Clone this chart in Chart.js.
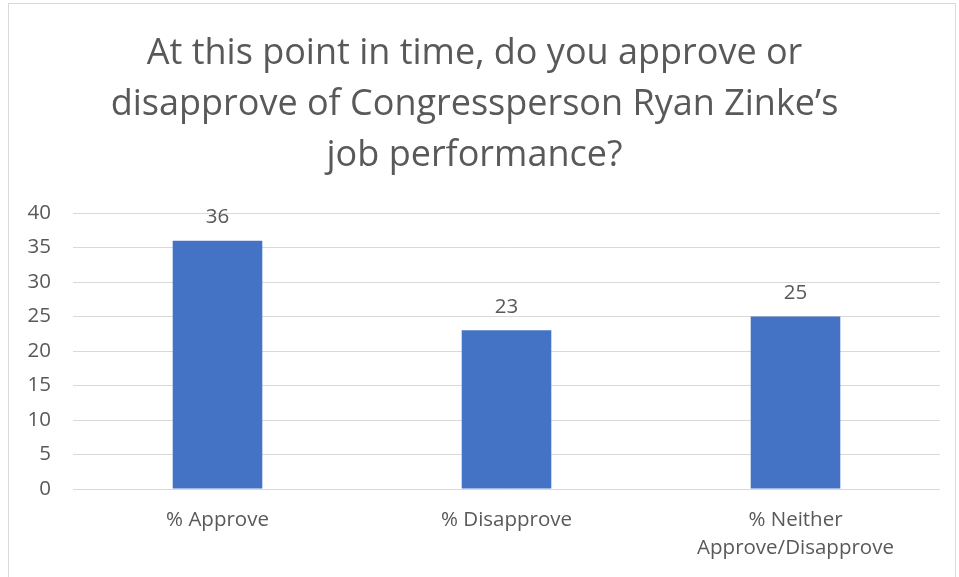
<!DOCTYPE html>
<html lang="en">
<head>
    <meta charset="UTF-8">
    <title>Ryan Zinke job performance</title>
    <script src="https://cdn.jsdelivr.net/npm/chart.js"></script>
    <style>
        html, body { margin: 0; padding: 0; background: #fff; }
        #wrap { width: 959px; height: 577px; position: relative; }
    </style>
</head>
<body>
    <div id="wrap"><canvas id="approvalChart"></canvas></div>

    <script>
        const categories = ['% Approve', '% Disapprove', ['% Neither', 'Approve/Disapprove']];
        const values = [36, 23, 25];
        const titleLines = [
            'At this point in time, do you approve or',
            'disapprove of Congressperson Ryan Zinke\u2019s',
            'job performance?'
        ];

        const FONT = "'Open Sans', sans-serif";
        const TEXT = '#595959';

        // value labels above each bar
        const barLabels = {
            id: 'barLabels',
            afterDatasetsDraw(chart) {
                const ctx = chart.ctx;
                const meta = chart.getDatasetMeta(0);
                ctx.save();
                ctx.font = '20.5px ' + FONT;
                ctx.fillStyle = TEXT;
                ctx.textAlign = 'center';
                ctx.textBaseline = 'middle';
                meta.data.forEach((bar, i) => {
                    ctx.fillText(values[i], bar.x, bar.y - 23);
                });
                ctx.restore();
            }
        };

        // light frame around the whole chart
        const frame = {
            id: 'frame',
            afterDraw(chart) {
                const ctx = chart.ctx;
                ctx.save();
                ctx.strokeStyle = '#d9d9d9';
                ctx.lineWidth = 1;
                ctx.strokeRect(8.5, 3.5, 947, 580);
                ctx.restore();
            }
        };

        new Chart(document.getElementById('approvalChart'), {
            type: 'bar',
            data: {
                labels: categories,
                datasets: [{
                    data: values,
                    backgroundColor: '#4472C4',
                    barPercentage: 0.31,
                    categoryPercentage: 1.0
                }]
            },
            options: {
                responsive: true,
                maintainAspectRatio: false,
                animation: false,
                layout: { padding: { left: 9, right: 19, top: 4, bottom: 0 } },
                plugins: {
                    legend: { display: false },
                    tooltip: { enabled: false },
                    title: {
                        display: true,
                        text: titleLines,
                        color: TEXT,
                        font: { family: FONT, size: 36, weight: 'normal', lineHeight: 1.417 },
                        padding: { top: 24, bottom: 32 }
                    }
                },
                scales: {
                    x: {
                        grid: { display: false, drawTicks: false },
                        border: { display: false },
                        ticks: {
                            color: TEXT,
                            font: { family: FONT, size: 20.5, lineHeight: 1.37 },
                            padding: 17,
                            maxRotation: 0
                        },
                        afterFit(axis) { axis.height = 88; }
                    },
                    y: {
                        min: 0,
                        max: 40,
                        grid: { color: '#d9d9d9', lineWidth: 1, drawTicks: false },
                        border: { display: false },
                        ticks: {
                            stepSize: 5,
                            color: TEXT,
                            font: { family: FONT, size: 20.5 },
                            padding: 22
                        },
                        afterFit(axis) { axis.width = 64; }
                    }
                }
            },
            plugins: [barLabels, frame]
        });
    </script>
</body>
</html>
